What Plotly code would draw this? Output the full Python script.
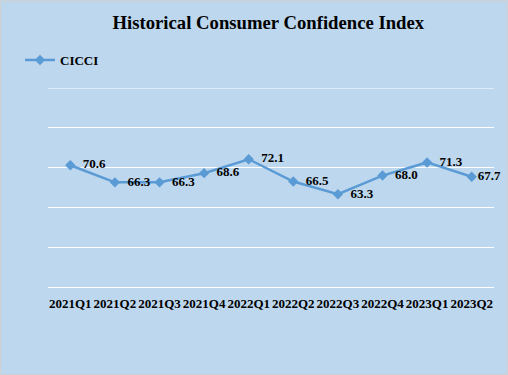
import plotly.graph_objects as go

quarters = ["2021Q1", "2021Q2", "2021Q3", "2021Q4", "2022Q1",
            "2022Q2", "2022Q3", "2022Q4", "2023Q1", "2023Q2"]
cicci = [70.6, 66.3, 66.3, 68.6, 72.1, 66.5, 63.3, 68.0, 71.3, 67.7]

SERIF = "Times New Roman, Liberation Serif, serif"
BG = "#BDD7EE"
LINE = "#5B9BD5"

W, H = 508, 375
ml, mr, mt, mb = 48, 14, 88, 88
pw, ph = W - ml - mr, H - mt - mb
Y_MIN, Y_MAX = 40, 90

# last label sits closer to its marker, as in the reference
templates = ["\u00a0\u00a0%{y:.1f}"] * (len(cicci) - 1) + ["%{y:.1f}"]

fig = go.Figure()
fig.add_trace(go.Scatter(
    x=quarters, y=cicci, name="CICCI",
    mode="lines+markers+text",
    texttemplate=templates, textposition="middle right",
    textfont=dict(family=SERIF, size=13, color="black", weight="bold"),
    line=dict(color=LINE, width=2.5),
    marker=dict(symbol="diamond", size=8, color=LINE),
    cliponaxis=False,
))

fig.update_layout(
    width=W, height=H,
    margin=dict(l=ml, r=mr, t=mt, b=mb),
    paper_bgcolor=BG, plot_bgcolor=BG,
    title=dict(text="Historical Consumer Confidence Index",
               font=dict(family=SERIF, size=18.7, color="black", weight="bold"),
               x=0.494, xanchor="center", xref="paper", y=1 - 22 / H, yanchor="middle", yref="container"),
    showlegend=True,
    legend=dict(x=(20 - ml) / pw, xanchor="left", y=1 + (mt - 60) / ph, yanchor="middle",
                font=dict(family=SERIF, size=13, color="black", weight="bold"),
                bgcolor="rgba(0,0,0,0)"),
    xaxis=dict(type="category", showgrid=False, showline=True, linecolor="white", linewidth=1,
               ticks="", tickangle=0, automargin=False, ticklabelstandoff=4,
               tickfont=dict(family=SERIF, size=13, color="black", weight="bold"),
               range=[-0.5, 9.5], fixedrange=True),
    yaxis=dict(range=[Y_MIN, Y_MAX], dtick=10, tick0=40, showgrid=True, gridcolor="white", gridwidth=1,
               showticklabels=False, zeroline=False, ticks="", automargin=False, fixedrange=True),
    shapes=[
        dict(type="rect", xref="paper", yref="paper",
             x0=-ml / pw + 0.5 / pw, x1=1 + (mr - 1) / pw,
             y0=-mb / ph + 0.5 / ph, y1=1 + (mt - 1) / ph,
             line=dict(color="#D0D0D0", width=1), layer="below"),
        dict(type="line", xref="paper", yref="y", x0=0, x1=1, y0=Y_MAX, y1=Y_MAX,
             line=dict(color="white", width=1), layer="below"),
    ],
)

fig.write_html("out.html", config={"displayModeBar": False},
               post_script="document.body.style.margin='0';document.body.style.padding='0';")
